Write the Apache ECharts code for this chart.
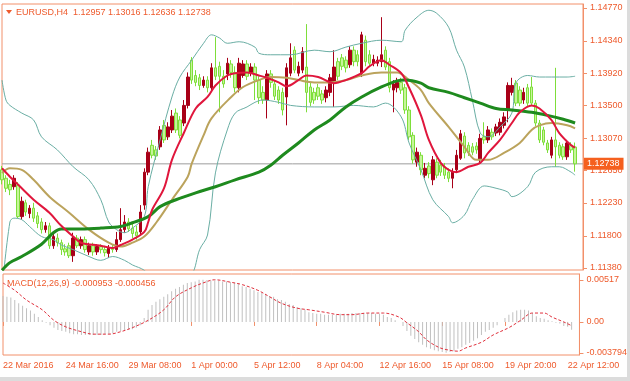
<!DOCTYPE html>
<html><head><meta charset="utf-8">
<script src="https://cdn.jsdelivr.net/npm/echarts/dist/echarts.min.js"></script>
<style>html,body{margin:0;padding:0;background:#fff}#c{width:630px;height:381px}</style>
</head><body><div id="c"></div>
<script>
// ---- tick labels ----
const priceTicks = [1.11380, 1.11800, 1.12230, 1.12650, 1.13070, 1.13500, 1.13920, 1.14340, 1.14770];
const macdTicks = [-0.003794, 0, 0.00517];
const macdTickLabels = ['-0.003794', '0.00', '0.00517'];
const firstTimeLabel = '22 Mar 2016';
const headerText = 'EURUSD,H4  1.12957 1.13016 1.12636 1.12738';
const macdText = 'MACD(12,26,9) -0.000953 -0.000456';

// ---- bar times (H4, 22 Mar 2016 -> 22 Apr 2016) ----
const months = ['Jan','Feb','Mar','Apr','May','Jun','Jul','Aug','Sep','Oct','Nov','Dec'];
const times = [];
(function(){
  let t = Date.UTC(2016, 2, 22, 0, 0);
  while (times.length < 148) {
    const d = new Date(t), wd = d.getUTCDay(), h = d.getUTCHours();
    let ok = wd !== 6;
    if (wd === 0 && (h !== 20 || (d.getUTCMonth() === 2 && d.getUTCDate() === 27))) ok = false;
    if (ok) times.push(d.getUTCDate() + ' ' + months[d.getUTCMonth()] + ' ' + String(h).padStart(2,'0') + ':00');
    t += 4 * 3600 * 1000;
  }
})();

// ---- candles [open, high, low, close] ----
const ohlc = [
[1.1266,1.1271,1.1247,1.1253],[1.1255,1.1259,1.1237,1.1242],[1.1247,1.1253,1.1233,1.1240],[1.1244,1.1259,1.1240,1.1255],
[1.1246,1.1250,1.1203,1.1205],[1.1205,1.1231,1.1201,1.1225],[1.1223,1.1227,1.1206,1.1211],[1.1209,1.1220,1.1203,1.1216],
[1.1216,1.1223,1.1198,1.1203],[1.1206,1.1211,1.1190,1.1196],[1.1198,1.1203,1.1183,1.1188],[1.1188,1.1198,1.1184,1.1193],
[1.1193,1.1197,1.1163,1.1167],[1.1167,1.1184,1.1163,1.1179],[1.1177,1.1183,1.1166,1.1171],[1.1171,1.1175,1.1155,1.1162],
[1.1163,1.1169,1.1154,1.1159],[1.1167,1.1171,1.1151,1.1154],[1.1154,1.1184,1.1146,1.1177],[1.1177,1.1181,1.1164,1.1167],
[1.1167,1.1179,1.1163,1.1175],[1.1175,1.1179,1.1158,1.1162],[1.1159,1.1171,1.1155,1.1167],[1.1167,1.1171,1.1154,1.1159],
[1.1159,1.1169,1.1155,1.1166],[1.1166,1.1169,1.1157,1.1162],[1.1162,1.1167,1.1153,1.1158],[1.1157,1.1168,1.1151,1.1164],
[1.1164,1.1169,1.1158,1.1162],[1.1162,1.1185,1.1159,1.1175],[1.1175,1.1216,1.1172,1.1188],[1.1188,1.1207,1.1184,1.1198],
[1.1198,1.1203,1.1185,1.1189],[1.1190,1.1196,1.1177,1.1183],[1.1185,1.1193,1.1175,1.1180],[1.1185,1.1220,1.1180,1.1211],
[1.1220,1.1268,1.1214,1.1263],[1.1263,1.1295,1.1259,1.1289],[1.1298,1.1305,1.1281,1.1285],[1.1292,1.1297,1.1279,1.1284],
[1.1296,1.1323,1.1292,1.1318],[1.1324,1.1331,1.1301,1.1305],[1.1309,1.1328,1.1305,1.1322],[1.1318,1.1344,1.1314,1.1336],
[1.1340,1.1346,1.1314,1.1318],[1.1331,1.1336,1.1307,1.1311],[1.1327,1.1357,1.1323,1.1350],[1.1350,1.1393,1.1346,1.1387],
[1.1409,1.1413,1.1378,1.1383],[1.1389,1.1396,1.1375,1.1380],[1.1386,1.1391,1.1370,1.1376],[1.1376,1.1388,1.1373,1.1383],
[1.1383,1.1388,1.1367,1.1373],[1.1373,1.1405,1.1370,1.1399],[1.1399,1.1439,1.1383,1.1388],[1.1401,1.1407,1.1341,1.1388],
[1.1388,1.1396,1.1373,1.1378],[1.1391,1.1412,1.1383,1.1405],[1.1404,1.1409,1.1386,1.1393],[1.1393,1.1401,1.1367,1.1373],
[1.1373,1.1412,1.1367,1.1405],[1.1389,1.1409,1.1386,1.1404],[1.1404,1.1409,1.1383,1.1388],[1.1393,1.1405,1.1388,1.1400],
[1.1400,1.1405,1.1357,1.1383],[1.1383,1.1388,1.1352,1.1360],[1.1367,1.1375,1.1352,1.1357],[1.1357,1.1396,1.1333,1.1391],
[1.1391,1.1396,1.1373,1.1380],[1.1378,1.1383,1.1357,1.1362],[1.1370,1.1375,1.1352,1.1357],[1.1367,1.1373,1.1337,1.1344],
[1.1361,1.1405,1.1324,1.1399],[1.1392,1.1431,1.1388,1.1412],[1.1422,1.1427,1.1392,1.1396],[1.1392,1.1407,1.1388,1.1401],
[1.1396,1.1426,1.1392,1.1420],[1.1400,1.1456,1.1341,1.1367],[1.1374,1.1380,1.1349,1.1354],[1.1367,1.1373,1.1352,1.1357],
[1.1373,1.1378,1.1357,1.1362],[1.1365,1.1370,1.1352,1.1357],[1.1360,1.1375,1.1354,1.1370],[1.1367,1.1391,1.1362,1.1386],
[1.1380,1.1422,1.1348,1.1400],[1.1407,1.1412,1.1383,1.1388],[1.1412,1.1417,1.1396,1.1401],[1.1409,1.1414,1.1393,1.1399],
[1.1403,1.1427,1.1399,1.1422],[1.1422,1.1427,1.1401,1.1407],[1.1416,1.1422,1.1401,1.1407],[1.1392,1.1446,1.1387,1.1442],
[1.1435,1.1441,1.1401,1.1407],[1.1416,1.1422,1.1401,1.1405],[1.1405,1.1416,1.1401,1.1410],[1.1405,1.1414,1.1401,1.1409],
[1.1407,1.1465,1.1400,1.1416],[1.1422,1.1427,1.1396,1.1400],[1.1407,1.1412,1.1367,1.1373],[1.1370,1.1383,1.1341,1.1378],
[1.1373,1.1386,1.1367,1.1380],[1.1380,1.1386,1.1365,1.1370],[1.1373,1.1378,1.1339,1.1344],[1.1344,1.1349,1.1305,1.1309],
[1.1311,1.1315,1.1274,1.1279],[1.1276,1.1295,1.1270,1.1289],[1.1285,1.1289,1.1259,1.1266],[1.1259,1.1275,1.1255,1.1268],
[1.1271,1.1276,1.1255,1.1261],[1.1253,1.1284,1.1246,1.1279],[1.1276,1.1281,1.1255,1.1259],[1.1272,1.1279,1.1258,1.1263],
[1.1270,1.1275,1.1254,1.1259],[1.1263,1.1268,1.1250,1.1255],[1.1255,1.1268,1.1242,1.1263],[1.1266,1.1292,1.1262,1.1285],
[1.1281,1.1318,1.1279,1.1313],[1.1310,1.1315,1.1281,1.1288],[1.1298,1.1302,1.1284,1.1289],[1.1296,1.1301,1.1285,1.1289],
[1.1297,1.1302,1.1287,1.1292],[1.1279,1.1313,1.1275,1.1307],[1.1309,1.1328,1.1300,1.1305],[1.1305,1.1323,1.1301,1.1318],
[1.1315,1.1320,1.1305,1.1309],[1.1314,1.1326,1.1310,1.1322],[1.1315,1.1333,1.1311,1.1328],[1.1324,1.1341,1.1320,1.1335],
[1.1344,1.1380,1.1328,1.1376],[1.1367,1.1386,1.1363,1.1376],[1.1379,1.1383,1.1349,1.1353],[1.1370,1.1375,1.1349,1.1353],
[1.1357,1.1373,1.1352,1.1367],[1.1373,1.1378,1.1349,1.1353],[1.1374,1.1387,1.1349,1.1353],[1.1353,1.1357,1.1323,1.1327],
[1.1327,1.1331,1.1301,1.1305],[1.1318,1.1322,1.1298,1.1302],[1.1301,1.1305,1.1288,1.1292],[1.1285,1.1309,1.1281,1.1305],
[1.1305,1.1399,1.1270,1.1296],[1.1298,1.1302,1.1281,1.1285],[1.1296,1.1300,1.1279,1.1283],[1.1283,1.1305,1.1279,1.1301],
[1.1298,1.1302,1.1288,1.1292],[1.12957,1.13016,1.12636,1.12738]
];

// ---- indicator lines, [bar index, value] ----
const fastMA = [[0,1.1268],[2,1.1257],[5,1.1242],[8,1.1227],[12,1.1210],[15,1.1193],[18,1.1179],[20,1.1171],[25,1.1167],[28,1.1164],[30,1.1168],[33,1.1175],[36,1.1185],[37,1.1198],[38,1.1214],[41,1.1242],[43,1.1279],[46,1.1314],[49,1.1346],[52,1.1361],[54,1.1376],[57,1.1389],[59,1.1392],[62,1.1393],[65,1.1389],[67,1.1386],[70,1.1380],[72,1.1375],[75,1.1383],[77,1.1389],[80,1.1387],[84,1.1379],[87,1.1383],[91,1.1392],[93,1.1401],[96,1.1409],[98,1.1403],[101,1.1392],[103,1.1373],[106,1.1337],[108,1.1305],[111,1.1275],[113,1.1266],[115,1.1263],[118,1.1270],[121,1.1275],[123,1.1288],[126,1.1305],[129,1.1327],[131,1.1341],[134,1.1350],[136,1.1346],[139,1.1331],[141,1.1314],[144,1.1298],[145,1.1295]];
const midMA = [[0,1.1262],[2,1.1268],[5,1.1266],[8,1.1253],[12,1.1231],[17,1.1210],[22,1.1188],[27,1.1171],[30,1.1166],[33,1.1171],[36,1.1179],[39,1.1197],[43,1.1227],[47,1.1257],[48,1.1274],[51,1.1311],[53,1.1333],[58,1.1361],[61,1.1374],[65,1.1383],[68,1.1387],[72,1.1386],[75,1.1383],[79,1.1380],[83,1.1380],[87,1.1383],[91,1.1389],[96,1.1393],[100,1.1393],[103,1.1383],[106,1.1370],[108,1.1353],[113,1.1322],[117,1.1296],[120,1.1279],[123,1.1279],[127,1.1288],[131,1.1301],[134,1.1318],[136,1.1324],[139,1.1327],[143,1.1324],[145,1.1320]];
const slowMA = [[0,1.1135],[2,1.1145],[5,1.1153],[10,1.1169],[13,1.1184],[15,1.1189],[20,1.1189],[25,1.1190],[30,1.1192],[33,1.1197],[37,1.1205],[40,1.1218],[44,1.1227],[49,1.1236],[54,1.1244],[59,1.1253],[65,1.1263],[68,1.1272],[71,1.1285],[75,1.1301],[79,1.1318],[83,1.1331],[87,1.1348],[91,1.1361],[96,1.1374],[100,1.1382],[102,1.1383],[106,1.1379],[108,1.1373],[113,1.1367],[117,1.1360],[121,1.1353],[125,1.1346],[129,1.1344],[134,1.1341],[138,1.1337],[142,1.1332],[145,1.1327]];
const bbUpper = [[0,1.1383],[1,1.1357],[2,1.1350],[5,1.1340],[8,1.1331],[10,1.1309],[14,1.1292],[18,1.1270],[22,1.1253],[25,1.1227],[27,1.1198],[29,1.1188],[31,1.1184],[33,1.1190],[36,1.1205],[37,1.1244],[40,1.1305],[43,1.1361],[45,1.1387],[48,1.1409],[51,1.1431],[53,1.1442],[55,1.1438],[57,1.1431],[60,1.1433],[64,1.1426],[65,1.1418],[68,1.1416],[73,1.1416],[79,1.1422],[83,1.1420],[87,1.1426],[91,1.1431],[96,1.1435],[101,1.1433],[102,1.1448],[105,1.1465],[108,1.1474],[110,1.1470],[113,1.1452],[115,1.1422],[117,1.1400],[119,1.1357],[121,1.1314],[123,1.1309],[126,1.1322],[129,1.1340],[130,1.1379],[133,1.1389],[136,1.1387],[139,1.1387],[143,1.1387],[145,1.1388]];
const bbLower = [[0,1.1109],[2,1.1198],[3,1.1203],[5,1.1201],[7,1.1192],[10,1.1179],[13,1.1175],[15,1.1168],[18,1.1162],[22,1.1153],[25,1.1148],[28,1.1153],[31,1.1148],[33,1.1142],[36,1.1135],[40,1.1116],[44,1.1112],[48,1.1129],[50,1.1162],[52,1.1181],[54,1.1262],[57,1.1318],[59,1.1340],[62,1.1348],[64,1.1354],[66,1.1357],[70,1.1354],[73,1.1350],[79,1.1348],[84,1.1348],[89,1.1350],[94,1.1348],[97,1.1353],[101,1.1335],[103,1.1301],[106,1.1266],[109,1.1227],[113,1.1205],[114,1.1197],[117,1.1207],[119,1.1227],[122,1.1245],[125,1.1242],[128,1.1237],[129,1.1231],[133,1.1244],[135,1.1263],[139,1.1270],[141,1.1270],[144,1.1263],[145,1.1259]];

// ---- MACD ----
const macdHist = [
0.0032,0.0031,0.0030,0.0027,0.0023,0.0020,0.0017,0.0014,0.0010,0.0006,0.0002,-0.0001,-0.0004,-0.0007,-0.0010,-0.0011,
-0.0012,-0.0014,-0.0015,-0.0015,-0.0016,-0.0016,-0.0016,-0.0016,-0.0016,-0.0016,-0.0015,-0.0015,-0.0014,-0.0012,-0.0011,-0.0010,
-0.0009,-0.0009,-0.0007,-0.0004,0.0005,0.0015,0.0021,0.0025,0.0028,0.0031,0.0034,0.0038,0.0041,0.0043,0.0046,0.0048,
0.0049,0.0050,0.0052,0.0052,0.00517,0.0051,0.0051,0.0051,0.0050,0.0050,0.0049,0.0048,0.0047,0.0044,0.0043,0.0041,
0.0039,0.0037,0.0036,0.0034,0.0032,0.0031,0.0028,0.0027,0.0025,0.0022,0.0021,0.0018,0.0017,0.0015,0.0012,0.0011,
0.0010,0.0010,0.0009,0.0009,0.0009,0.0009,0.0010,0.0010,0.0010,0.0011,0.0011,0.0011,0.0011,0.0011,0.0011,0.0010,
0.0010,0.0009,0.0006,0.0005,0.0002,0.0000,-0.0005,-0.0011,-0.0017,-0.0021,-0.0025,-0.0028,-0.0031,-0.0033,-0.0035,-0.0036,
-0.0037,-0.003794,-0.0037,-0.0036,-0.0033,-0.0031,-0.0028,-0.0026,-0.0023,-0.0020,-0.0016,-0.0012,-0.0010,-0.0007,-0.0004,0.0000,
0.0005,0.0009,0.0012,0.0014,0.0015,0.0015,0.0014,0.0011,0.0007,0.0005,0.0004,0.0002,0.0001,-0.0001,-0.0002,-0.0005,
-0.0006,-0.000953
];
const macdSignal = [[0,0.0048],[3,0.0039],[6,0.0027],[10,0.0015],[13,0.0002],[16,-0.0006],[20,-0.0012],[23,-0.0015],[27,-0.0015],[30,-0.0012],[33,-0.0007],[37,0.0002],[41,0.0015],[44,0.0031],[48,0.0042],[51,0.0048],[54,0.0052],[58,0.0049],[61,0.0046],[65,0.0039],[68,0.0031],[71,0.0023],[75,0.0017],[78,0.0015],[82,0.0012],[86,0.0009],[89,0.0009],[93,0.0011],[97,0.0011],[101,0.0006],[103,-0.0001],[106,-0.0012],[108,-0.0022],[111,-0.0031],[113,-0.0034],[116,-0.0036],[118,-0.0032],[122,-0.0025],[125,-0.0016],[129,-0.0007],[132,0.0002],[135,0.0011],[138,0.0011],[140,0.0006],[143,0.0000],[145,-0.000456]];

// ---- styling ----
const FRAME = '#f2906a', TXT = '#ee5a2c', FONT = 'Liberation Sans';
const lastClose = ohlc[ohlc.length - 1][3];
const lastIdx = times.length - 1;
const everySixteen = (i) => i % 16 === 0;

const chart = echarts.init(document.getElementById('c'), null, {renderer: 'canvas', width: 630, height: 381});
const lineS = (data, color, width, extra) => Object.assign({
  type: 'line', xAxisIndex: 0, yAxisIndex: 0, data: data, showSymbol: false, smooth: 0.35,
  lineStyle: {color: color, width: width}, silent: true, z: 3
}, extra || {});

chart.setOption({
  animation: false,
  backgroundColor: '#ffffff',
  textStyle: {fontFamily: FONT},
  grid: [
    {left: 2, right: 47, top: 4, height: 266, show: true, borderColor: FRAME, borderWidth: 1},
    {left: 2, right: 47, top: 274, height: 81, show: true, borderColor: FRAME, borderWidth: 1}
  ],
  xAxis: [
    {type: 'category', gridIndex: 0, data: times, boundaryGap: false, show: false},
    {type: 'category', gridIndex: 1, data: times, boundaryGap: false,
     axisLine: {show: false},
     axisTick: {show: true, interval: everySixteen, alignWithLabel: true, length: 4, lineStyle: {color: FRAME}},
     axisLabel: {interval: everySixteen, align: 'left', color: TXT, fontSize: 9, fontFamily: FONT, margin: 6,
                 formatter: (v, i) => i === 0 ? firstTimeLabel : v},
     splitLine: {show: false}}
  ],
  yAxis: [
    {type: 'value', gridIndex: 0, position: 'right', min: 1.11354, max: 1.14822, scale: true,
     axisLine: {show: true, lineStyle: {color: FRAME}},
     axisTick: {show: true, customValues: priceTicks, length: 4, lineStyle: {color: FRAME}},
     axisLabel: {customValues: priceTicks, formatter: v => v.toFixed(5), color: TXT, fontSize: 9, fontFamily: FONT, margin: 7},
     splitLine: {show: false}},
    {type: 'value', gridIndex: 1, position: 'right', min: -0.00407, max: 0.00591,
     axisLine: {show: true, lineStyle: {color: FRAME}},
     axisTick: {show: true, customValues: macdTicks, length: 4, lineStyle: {color: FRAME}},
     axisLabel: {customValues: macdTicks, color: TXT, fontSize: 9, fontFamily: FONT, margin: 7,
                 formatter: v => { let k = 0, best = 1; macdTicks.forEach((t, j) => { if (Math.abs(t - v) < best) { best = Math.abs(t - v); k = j; } }); return macdTickLabels[k]; }},
     splitLine: {show: false}}
  ],
  series: [
    // last price line with its tag on the price scale
    {type: 'line', xAxisIndex: 0, yAxisIndex: 0, data: [[0, lastClose], [lastIdx, lastClose]], showSymbol: false,
     silent: true, z: 1, clip: false, lineStyle: {color: '#9c9c9c', width: 1},
     endLabel: {show: true, formatter: lastClose.toFixed(5), backgroundColor: '#f5601f', color: '#ffffff',
                fontSize: 9, fontFamily: FONT, padding: [2, 4, 1, 3], distance: 1}},
    {type: 'candlestick', xAxisIndex: 0, yAxisIndex: 0, barWidth: 3, silent: true,
     data: ohlc.map(b => [b[0], b[3], b[2], b[1]]),
     itemStyle: {color: '#a80018', color0: '#c6f59a', borderColor: '#a80018', borderColor0: '#7ede3a', borderWidth: 1}},
    lineS(bbUpper, '#6aaea4', 1),
    lineS(bbLower, '#6aaea4', 1),
    lineS(midMA, '#bba35c', 2),
    lineS(slowMA, '#1e8a1e', 3),
    lineS(fastMA, '#e0163c', 2),
    {type: 'bar', xAxisIndex: 1, yAxisIndex: 1, data: macdHist, barWidth: 1, silent: true,
     itemStyle: {color: '#c0c0c0'}},
    {type: 'line', xAxisIndex: 1, yAxisIndex: 1, data: macdSignal, showSymbol: false, smooth: 0.35, silent: true,
     lineStyle: {color: '#e0303c', width: 1, type: [3, 2]}, z: 3}
  ],
  graphic: [
    {type: 'polygon', shape: {points: [[6, 10], [12, 10], [9, 14]]}, style: {fill: TXT}},
    {type: 'text', left: 16, top: 8, style: {text: headerText, fill: TXT, font: '9px "Liberation Sans"'}},
    {type: 'text', left: 7, top: 279, style: {text: macdText, fill: TXT, font: '9px "Liberation Sans"'}},
    {type: 'rect', shape: {x: 627, y: 0, width: 3, height: 381}, style: {fill: '#dcdcdc'}, silent: true},
    {type: 'rect', shape: {x: 0, y: 377, width: 630, height: 4}, style: {fill: '#dcdcdc'}, silent: true}
  ]
});
</script></body></html>
